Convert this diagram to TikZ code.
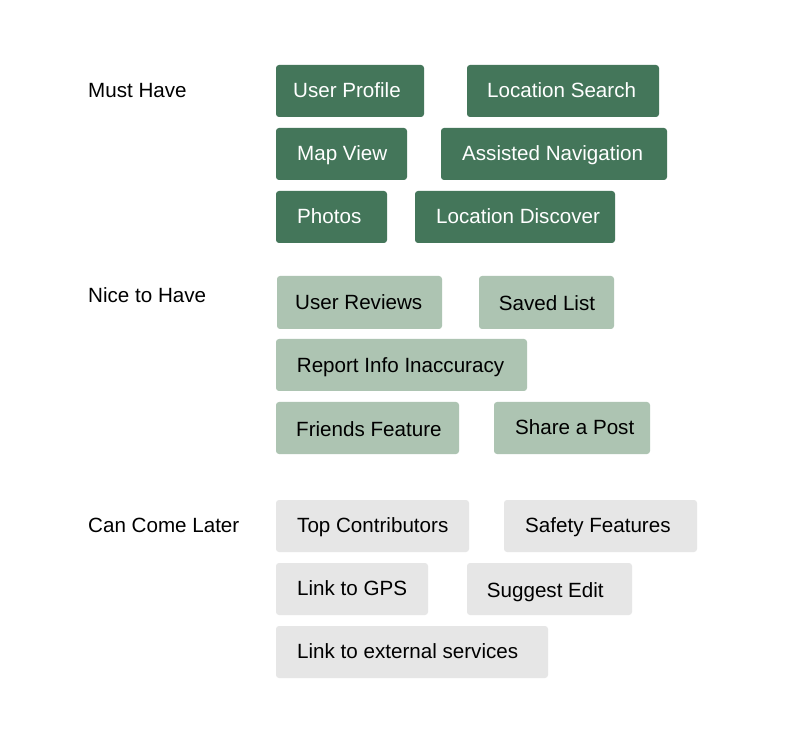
\documentclass[tikz,border=0pt]{standalone}
\usepackage{fontspec}
\setmainfont{Liberation Sans}
\definecolor{mustc}{HTML}{44765A}
\definecolor{nicec}{HTML}{ADC4B2}
\definecolor{laterc}{HTML}{E6E6E6}
\tikzset{
  box/.style={rectangle, rounded corners=3pt, inner sep=0pt, draw=none},
  must/.style={box, fill=mustc},
  nice/.style={box, fill=nicec},
  later/.style={box, fill=laterc},
  txt/.style={anchor=base west, inner sep=0pt, font=\fontsize{20.6}{24}\selectfont},
  wtxt/.style={txt, text=white},
  btxt/.style={txt, text=black},
}
% #1 name, #2 x1, #3 y1, #4 x2, #5 y2, #6 box style, #7 text style, #8 text base point, #9 text
\newcommand{\featbox}[9]{%
  \node[#6, minimum width={#4-#2}, minimum height={#5-#3}] (#1) at ({(#2+#4)/2},{(#3+#5)/2}) {};
  \node[#7] (#1t) at (#8) {#9};
}
\begin{document}
\begin{tikzpicture}[x=1pt,y=-1pt]
\useasboundingbox (0,0) rectangle (793,751);
\fill[white] (0,0) rectangle (793,751);
% labels
\node[btxt] (lmust) at (88,97.3) {Must Have};
\node[btxt] (lnice) at (88,302.3) {Nice to Have};
\node[btxt] (llater) at (88,532.7) {Can Come Later};
% Must have
\featbox{up}{276}{65}{424}{117}{must}{wtxt}{293,97.7}{User Profile}
\featbox{ls}{467}{65}{659}{117}{must}{wtxt}{487,97.7}{Location Search}
\featbox{mv}{276}{128}{407}{180}{must}{wtxt}{297,161}{Map View}
\featbox{an}{441}{128}{667}{180}{must}{wtxt}{462,161}{Assisted Navigation}
\featbox{ph}{276}{191}{387}{243}{must}{wtxt}{297,224}{Photos}
\featbox{ld}{415}{191}{615}{243}{must}{wtxt}{436,224}{Location Discover}
% Nice to have
\featbox{ur}{277}{276}{442}{329}{nice}{btxt}{295,309.3}{User Reviews}
\featbox{sl}{479}{276}{614}{329}{nice}{btxt}{498.7,311}{Saved List}
\featbox{ri}{276}{339}{527}{391}{nice}{btxt}{296.7,372.7}{Report Info Inaccuracy}
\featbox{ff}{276}{402}{459}{454}{nice}{btxt}{296,436}{Friends Feature}
\featbox{sp}{494}{402}{650}{454}{nice}{btxt}{515,434.3}{Share a Post}
% Can come later
\featbox{tc}{276}{500}{469}{552}{later}{btxt}{297,532.7}{Top Contributors}
\featbox{sf}{504}{500}{697}{552}{later}{btxt}{525,532.7}{Safety Features}
\featbox{lg}{276}{563}{428}{615}{later}{btxt}{297,595.7}{Link to GPS}
\featbox{se}{467}{563}{632}{615}{later}{btxt}{486.7,597.3}{Suggest Edit}
\featbox{le}{276}{626}{548}{678}{later}{btxt}{297,658.7}{Link to external services}
\end{tikzpicture}
\end{document}
